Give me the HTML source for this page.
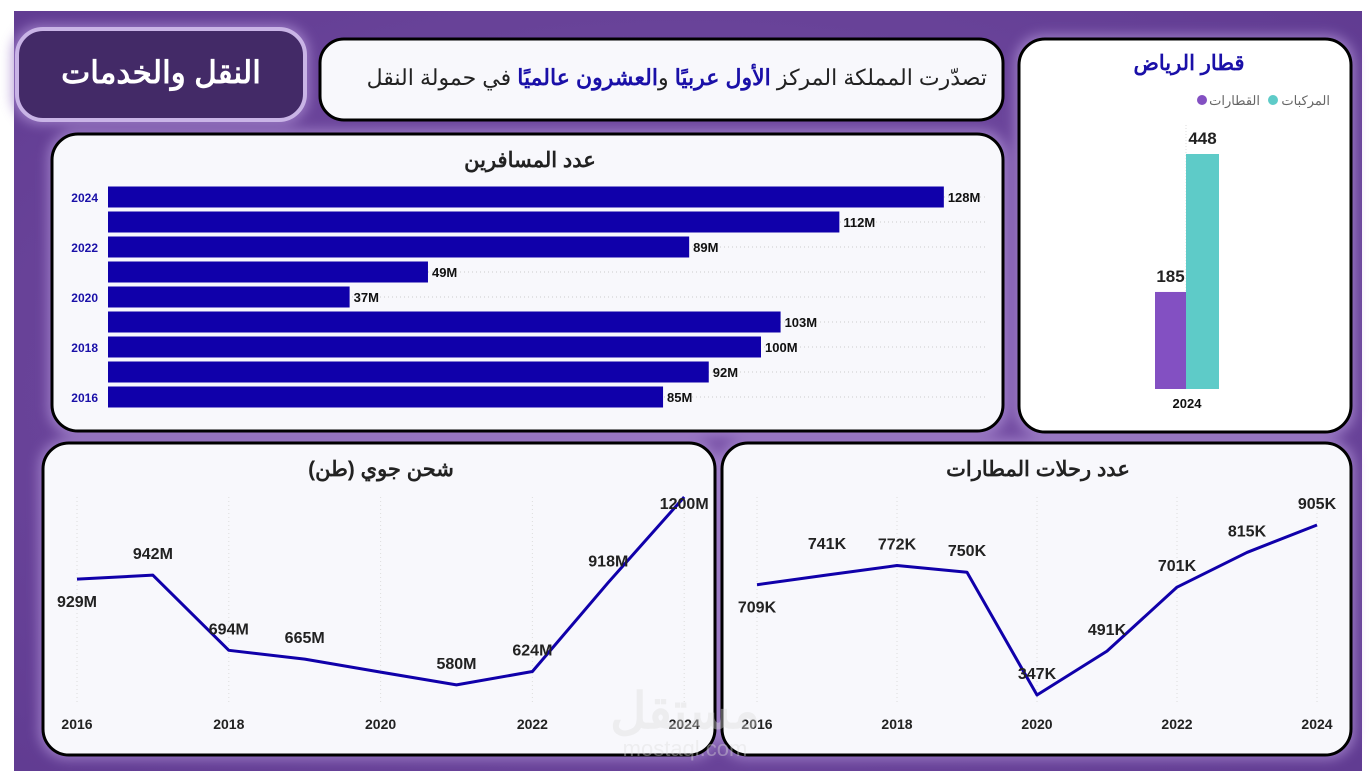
<!DOCTYPE html>
<html><head><meta charset="utf-8"><style>
html,body{margin:0;padding:0;background:#fff;width:1372px;height:780px;overflow:hidden}
svg text{font-family:"Liberation Sans","Noto Sans CJK SC",sans-serif}
</style></head><body>
<svg id="s" width="1372" height="780" xmlns="http://www.w3.org/2000/svg">
<defs>
<radialGradient id="bg" cx="50%" cy="50%" r="70%"><stop offset="0" stop-color="#7a52a8"/><stop offset="1" stop-color="#613c92"/></radialGradient>
<filter id="gl" x="-20%" y="-20%" width="140%" height="140%"><feGaussianBlur stdDeviation="6"/></filter>
</defs>
<rect x="14" y="11" width="1348" height="760" fill="url(#bg)"/>
<g fill="#a98ad0" opacity="0.8" filter="url(#gl)">
<rect x="48" y="130" width="960" height="306" rx="28"/><rect x="1015" y="35" width="340" height="402" rx="28"/>
<rect x="39" y="439" width="680" height="320" rx="28"/><rect x="718" y="439" width="637" height="320" rx="28"/>
<rect x="12" y="25" width="297" height="99" rx="28"/></g>
<rect x="17" y="29" width="288" height="91" rx="26" fill="#432a67" stroke="#c9b4e6" stroke-width="4"/>
<text x="161" y="83" text-anchor="middle" font-size="31" font-weight="bold" fill="#fff">النقل والخدمات</text>
<rect x="320" y="39" width="683" height="81" rx="24" fill="#f8f8fc" stroke="#000" stroke-width="3"/>
<text x="987" y="85" text-anchor="start" direction="rtl" font-size="22" fill="#222">تصدّرت المملكة المركز <tspan fill="#1a10a8" font-weight="bold">الأول عربيًا</tspan> و<tspan fill="#1a10a8" font-weight="bold">العشرون عالميًا</tspan> في حمولة النقل</text>
<rect x="52" y="134" width="951" height="297" rx="26" fill="#f8f8fc" stroke="#000" stroke-width="3"/>
<text x="530" y="167" text-anchor="middle" font-size="21" font-weight="bold" fill="#222">عدد المسافرين</text>
<g id="pass"></g>
<rect x="1019" y="39" width="332" height="393" rx="26" fill="#fff" stroke="#000" stroke-width="3"/>
<text x="1189" y="70" text-anchor="middle" font-size="21" font-weight="bold" fill="#1a10a8">قطار الرياض</text>
<circle cx="1273" cy="100" r="5" fill="#5ecbc8"/>
<text x="1330" y="105" text-anchor="end" font-size="13" fill="#666">المركبات</text>
<circle cx="1202" cy="100" r="5" fill="#8350c2"/>
<text x="1260" y="105" text-anchor="end" font-size="13" fill="#666">القطارات</text>
<g id="riy"></g>
<rect x="43" y="443" width="672" height="312" rx="26" fill="#f8f8fc" stroke="#000" stroke-width="3"/>
<text x="381" y="476" text-anchor="middle" font-size="21" font-weight="bold" fill="#222">شحن جوي (طن)</text>
<g id="cargo"></g>
<rect x="722" y="443" width="629" height="312" rx="26" fill="#f8f8fc" stroke="#000" stroke-width="3"/>
<text x="1038" y="476" text-anchor="middle" font-size="21" font-weight="bold" fill="#222">عدد رحلات المطارات</text>
<g id="flights"></g>
<text x="685" y="728" text-anchor="middle" font-size="50" font-weight="bold" fill="#ddd" opacity="0.4">مستقل</text>
<text x="685" y="756" text-anchor="middle" font-size="22" fill="#ddd" opacity="0.4">mostaql.com</text>
</svg>
<script>
const passYears=[2024,2023,2022,2021,2020,2019,2018,2017,2016];
const passValues=[128,112,89,49,37,103,100,92,85];
const passLabels=["128M","112M","89M","49M","37M","103M","100M","92M","85M"];
const riyCats=["القطارات","المركبات"];
const riyValues=[185,448];
const cargoYears=[2016,2017,2018,2019,2020,2021,2022,2023,2024];
const cargoValues=[929,942,694,665,622,580,624,918,1200];
const cargoLabels=["929M","942M","694M","665M","","580M","624M","918M","1200M"];
const flightYears=[2016,2017,2018,2019,2020,2021,2022,2023,2024];
const flightValues=[709,741,772,750,347,491,701,815,905];
const flightLabels=["709K","741K","772K","750K","347K","491K","701K","815K","905K"];
const NS="http://www.w3.org/2000/svg";
function mk(p,t,a,txt){const e=document.createElementNS(NS,t);for(const k in a)e.setAttribute(k,a[k]);if(txt!==undefined)e.textContent=txt;p.appendChild(e);return e;}
const pg=document.getElementById('pass');
const px=v=>108+v*6.53, py=i=>197+i*25;
passValues.forEach((v,i)=>{
 const g=mk(pg,'line',{x1:108,x2:985,y1:py(i),y2:py(i),stroke:'#ccc','stroke-dasharray':'1 3'});
 
 
 const r=mk(pg,'rect',{x:108,y:py(i)-10.5,width:px(v)-108,height:21,fill:'#1000aa'});
 
 
 const t=mk(pg,'text',{x:px(v)+4,y:py(i)+5,'font-size':13,'font-weight':'bold',fill:'#111'},passLabels[i]);
 
 
 if(passYears[i]%2==0){const y=mk(pg,'text',{x:98,y:py(i)+5,'text-anchor':'end','font-size':12,'font-weight':'bold',fill:'#1a10a8'},passYears[i]);
 
 }
});
const rg=document.getElementById('riy');
const ry=v=>389-v*(235/448);
const rcol=['#8350c2','#5ecbc8'], rx=[1155,1186], rw=[31,33];
mk(rg,'line',{x1:1186,x2:1186,y1:125,y2:389,stroke:'#ddd','stroke-dasharray':'1 2'});
riyValues.forEach((v,i)=>{
 const r=mk(rg,'rect',{x:rx[i],y:ry(v),width:rw[i],height:389-ry(v),fill:rcol[i]});
 
 
 const t=mk(rg,'text',{x:rx[i]+rw[i]/2,y:ry(v)-10,'text-anchor':'middle','font-size':17,'font-weight':'bold',fill:'#222'},v);
 
 
});
const rt=mk(rg,'text',{x:1187,y:408,'text-anchor':'middle','font-size':13,'font-weight':'bold',fill:'#111'},'2024');


function lineChart(id,years,vals,labels,x0,dx,yf,name,offs){
 const g=document.getElementById(id);
 years.forEach((yr,i)=>{if(yr%2==0){
  const gl=mk(g,'line',{x1:x0+i*dx,x2:x0+i*dx,y1:497,y2:705,stroke:'#ddd','stroke-dasharray':'1 3'});
  
  
  const t=mk(g,'text',{x:x0+i*dx,y:729,'text-anchor':'middle','font-size':14,'font-weight':'bold',fill:'#222'},yr);
  
  }});
 const pts=vals.map((v,i)=>(x0+i*dx)+','+yf(v)).join(' ');
 const pl=mk(g,'polyline',{points:pts,fill:'none',stroke:'#1000aa','stroke-width':3,'stroke-linejoin':'round'});
 
 
 vals.forEach((v,i)=>{if(!labels[i])return;
  const t=mk(g,'text',{x:x0+i*dx,y:yf(v)+offs[i],'text-anchor':'middle','font-size':16,'font-weight':'bold',fill:'#222'},labels[i]);
  
  });
}
lineChart('cargo',cargoYears,cargoValues,cargoLabels,77,75.9,v=>497+(1200-v)*0.303,'cargo',[28,-16,-16,-16,0,-16,-16,-16,12]);
lineChart('flights',flightYears,flightValues,flightLabels,757,70,v=>525+(905-v)*0.3047,'flights',[28,-26,-16,-16,-16,-16,-16,-16,-16]);
</script>
</body></html>
